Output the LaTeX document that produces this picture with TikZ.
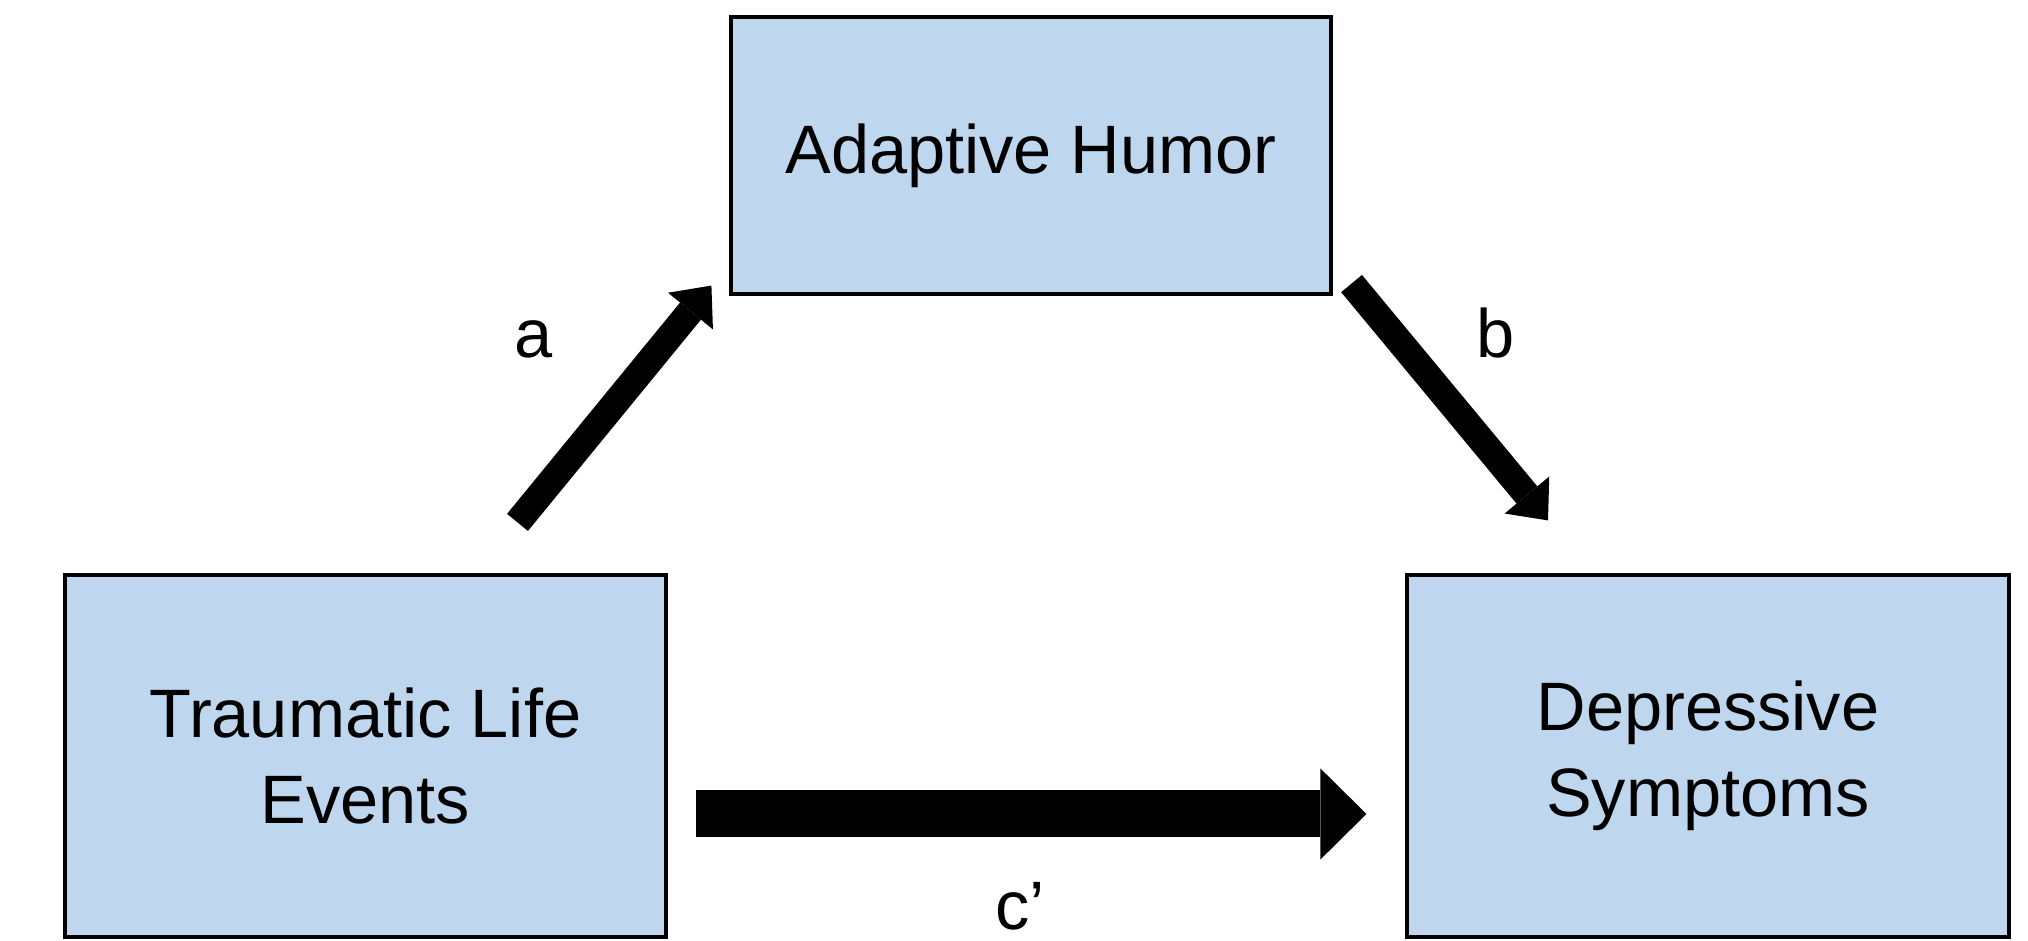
\documentclass[tikz,border=0pt]{standalone}
\usepackage{fontspec}
\setmainfont{Liberation Sans}
\usetikzlibrary{positioning,arrows.meta,calc}
\definecolor{boxblue}{RGB}{190,215,238}
\tikzset{
  varbox/.style={draw, line width=0.9pt, fill=boxblue, align=center, inner sep=0pt},
  patharrow/.style={-{Triangle[length=3.3mm, width=5.8mm, line width=0pt]}, line width=2.7mm},
  directarrow/.style={-{Triangle[length=4.6mm, width=9.1mm, line width=0pt]}, line width=4.7mm},
  pathlabel/.style={anchor=base, inner sep=0pt}
}

\begin{document}
\begin{tikzpicture}[every node/.style={font=\fontsize{19.5}{24.5}\selectfont}]
  \useasboundingbox (0,0) rectangle (20.28,9.41);
  \node[varbox, minimum width=6.0cm, minimum height=2.77cm] (hum) at (10.31,7.855) {Adaptive Humor};
  \node[varbox, minimum width=6.01cm, minimum height=3.62cm] (tle) at (3.655,1.85) {Traumatic Life\\Events};
  \node[varbox, minimum width=6.02cm, minimum height=3.62cm] (dep) at (17.08,1.85) {Depressive\\Symptoms};
  % arrow ends sit a little off the boxes
  \coordinate (a-tail) at ($(tle.north)+(1.52,0.51)$);
  \coordinate (a-tip) at ($(hum.south west)+(-0.18,0.10)$);
  \coordinate (b-tail) at ($(hum.south east)+(0.19,0.12)$);
  \coordinate (b-tip) at ($(dep.north)+(-1.60,0.53)$);
  \coordinate (c-tail) at ($(tle.east)+(0.28,-0.58)$);
  \coordinate (c-tip) at ($(dep.west)+(-0.39,-0.58)$);
  \draw[patharrow] (a-tail) -- (a-tip);
  \draw[patharrow] (b-tail) -- (b-tip);
  \draw[directarrow] (c-tail) -- (c-tip);
  \node[pathlabel] (a-lab) at (5.34,5.83) {a};
  \node[pathlabel] (b-lab) at (14.96,5.83) {b};
  \node[pathlabel] (c-lab) at (10.20,0.11) {c’};
\end{tikzpicture}
\end{document}
